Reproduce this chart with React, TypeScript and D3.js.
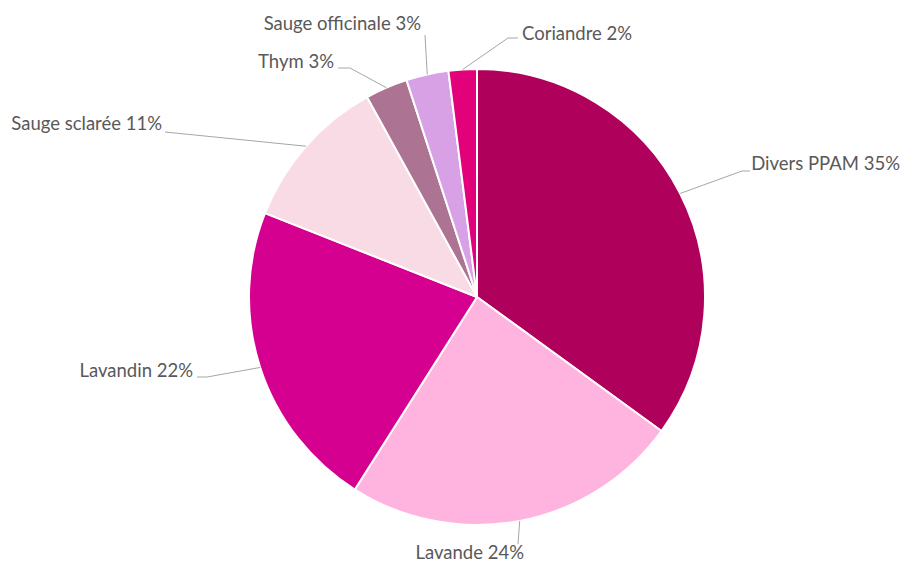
import React from 'react';
import * as d3 from 'd3';

// Data
const categories = ['Divers PPAM', 'Lavande', 'Lavandin', 'Sauge sclarée', 'Thym', 'Sauge officinale', 'Coriandre'];
const shares = [35, 24, 22, 11, 3, 3, 2];
const colors = ['#AF005B', '#FFB3DF', '#D5008F', '#F9DBE6', '#AD7393', '#D8A1E6', '#E3007B'];

// Label layout (manual, like Excel's dragged labels): text anchor point, anchor side, elbow
const labelLayout = [
  { x: 900, y: 170, anchor: 'end', line: [[742, 171], [750, 171]] },
  { x: 524, y: 559, anchor: 'end', line: [[518, 544]] },
  { x: 193, y: 377, anchor: 'end', line: [[207, 377], [197, 377]] },
  { x: 162, y: 130, anchor: 'end', line: [[165, 132]] },
  { x: 334, y: 68, anchor: 'end', line: [[350, 68], [338, 68]] },
  { x: 421, y: 30, anchor: 'end', line: [[425, 35]] },
  { x: 522, y: 40, anchor: 'start', line: [[508, 38], [518, 38]] },
];

const width = 903;
const height = 563;
const cx = 477;
const cy = 297;
const radius = 228;

export default function App() {
  const pie = d3.pie<number>().sort(null).value((d) => d);
  const arcs = pie(shares);
  const arc = d3.arc<d3.PieArcDatum<number>>().innerRadius(0).outerRadius(radius);
  const edge = d3.arc<d3.PieArcDatum<number>>().innerRadius(radius).outerRadius(radius);

  return (
    <svg width={width} height={height} style={{ position: 'absolute', left: 0, top: 0, background: '#fff' }}>
      <g transform={`translate(${cx},${cy})`}>
        {arcs.map((a, i) => (
          <path key={i} d={arc(a) || ''} fill={colors[i]} stroke="#fff" strokeWidth={2} strokeLinejoin="round" />
        ))}
      </g>
      {arcs.map((a, i) => {
        const [ex, ey] = edge.centroid(a);
        const pts = [[cx + ex, cy + ey], ...labelLayout[i].line];
        return (
          <polyline
            key={i}
            points={pts.map((p) => p.join(',')).join(' ')}
            fill="none"
            stroke="#a6a6a6"
            strokeWidth={1}
          />
        );
      })}
      {categories.map((c, i) => (
        <text
          key={c}
          x={labelLayout[i].x}
          y={labelLayout[i].y}
          textAnchor={labelLayout[i].anchor as any}
          fontFamily="Lato, 'Open Sans', sans-serif"
          fontSize={18.5}
          fill="#595959"
        >
          {`${c} ${shares[i]}%`}
        </text>
      ))}
    </svg>
  );
}
